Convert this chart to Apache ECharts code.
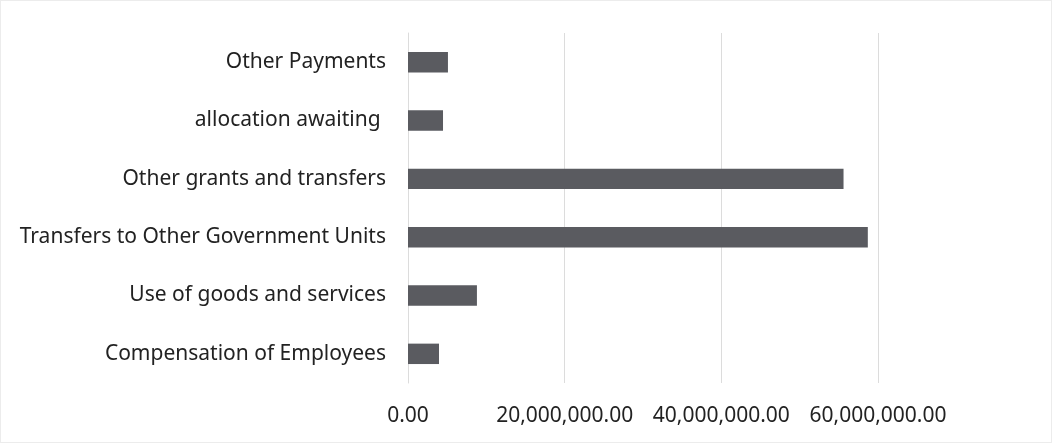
<!DOCTYPE html>
<html><head><meta charset="utf-8">
<script src="https://cdn.jsdelivr.net/npm/echarts@6/dist/echarts.min.js"></script>
<style>html,body{margin:0;padding:0;background:#fff}#c{width:1052px;height:443px;box-sizing:border-box;border:1px solid #ececec}</style>
</head><body><div id="c"></div>
<script>
const categories = ["Compensation of Employees","Use of goods and services","Transfers to Other Government Units","Other grants and transfers","allocation awaiting ","Other Payments"];
const values = [3960000, 8800000, 58700000, 55600000, 4470000, 5100000];
const tickInterval = 20000000;
const axisMax = 60000000;
const chart = echarts.init(document.getElementById('c'));
chart.setOption({
  animation:false,
  grid:{left:407,right:173,top:32,bottom:59,containLabel:false},
  xAxis:{type:'value',min:0,max:axisMax,interval:tickInterval,
    axisLine:{show:false},axisTick:{show:false},
    splitLine:{lineStyle:{color:'#dcdcdc',width:1}},
    axisLabel:{margin:23,color:'#222',fontFamily:'Noto Sans',fontSize:21,
      formatter:v=>v.toLocaleString('en-US',{minimumFractionDigits:2,maximumFractionDigits:2})}},
  yAxis:{type:'category',data:categories,
    axisLine:{lineStyle:{color:'#dcdcdc'}},axisTick:{show:false},
    axisLabel:{margin:22,color:'#222',fontFamily:'Noto Sans',fontSize:21}},
  series:[{type:'bar',data:values,barCategoryGap:'65%',itemStyle:{color:'#5a5b60'}}]
});
</script></body></html>
